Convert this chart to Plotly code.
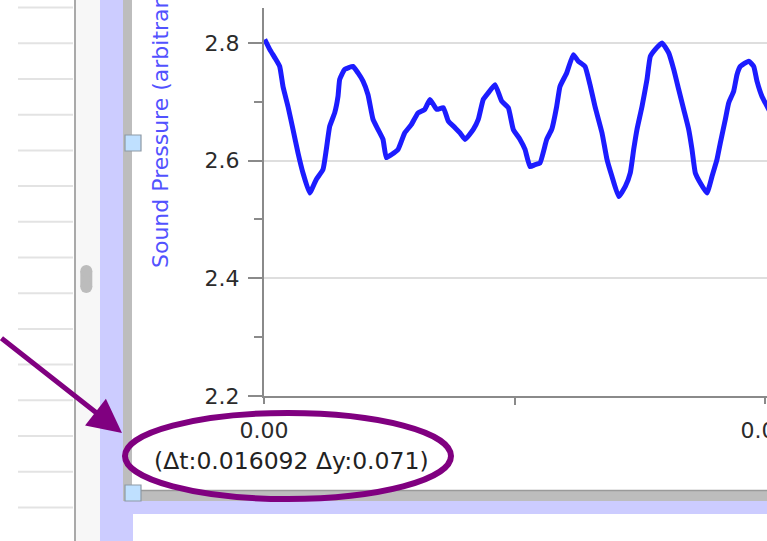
import plotly.graph_objects as go

# ---------------- data ----------------
time_s = [0.000014, 0.000114, 0.000214, 0.000313, 0.000379, 0.000479, 0.000579, 0.000679,
          0.000778, 0.000912, 0.001044, 0.001178, 0.001244, 0.001311, 0.001411, 0.001477,
          0.001511, 0.001611, 0.001776, 0.001876, 0.001976, 0.002076, 0.002176, 0.002275,
          0.002375, 0.002441, 0.002541, 0.002675, 0.002808, 0.002940, 0.003074, 0.003208,
          0.003313, 0.003447, 0.003579, 0.003679, 0.003812, 0.003912, 0.004012, 0.004178,
          0.004277, 0.004377, 0.004477, 0.004611, 0.004745, 0.004876, 0.004976, 0.005110,
          0.005210, 0.005309, 0.005409, 0.005509, 0.005643, 0.005743, 0.005842, 0.005908,
          0.006042, 0.006174, 0.006273, 0.006407, 0.006507, 0.006607, 0.006747, 0.006846,
          0.006946, 0.007080, 0.007212, 0.007311, 0.007379, 0.007445, 0.007545, 0.007645,
          0.007711, 0.007810, 0.007944, 0.008078, 0.008178, 0.008277, 0.008377, 0.008477,
          0.008543, 0.008609, 0.008709, 0.008842, 0.008942, 0.009042, 0.009108, 0.009208,
          0.009275, 0.009375, 0.009441, 0.009507, 0.009675, 0.009774, 0.009840, 0.009940,
          0.010100]
sound_pressure = [2.806, 2.789, 2.775, 2.760, 2.726, 2.692, 2.653, 2.613,
                  2.579, 2.545, 2.568, 2.585, 2.619, 2.658, 2.681, 2.709,
                  2.738, 2.755, 2.760, 2.749, 2.735, 2.712, 2.670, 2.653,
                  2.636, 2.605, 2.610, 2.619, 2.647, 2.661, 2.681, 2.687,
                  2.704, 2.687, 2.690, 2.667, 2.656, 2.647, 2.636, 2.653,
                  2.670, 2.704, 2.715, 2.729, 2.701, 2.690, 2.653, 2.636,
                  2.619, 2.590, 2.593, 2.596, 2.636, 2.653, 2.692, 2.726,
                  2.749, 2.780, 2.769, 2.760, 2.729, 2.692, 2.647, 2.602,
                  2.573, 2.539, 2.556, 2.579, 2.619, 2.653, 2.692, 2.738,
                  2.777, 2.789, 2.800, 2.783, 2.755, 2.721, 2.687, 2.653,
                  2.619, 2.579, 2.562, 2.545, 2.573, 2.602, 2.630, 2.670,
                  2.698, 2.718, 2.746, 2.760, 2.769, 2.760, 2.735, 2.709,
                  2.683]

y_tick_values = [2.2, 2.4, 2.6, 2.8]
y_tick_labels = ["2.2", "2.4", "2.6", "2.8"]
y_minor_values = [2.3, 2.5, 2.7]
x_tick_values = [0.0, 0.01]
x_tick_labels = ["0.00", "0.01"]
x_minor_values = [0.005]
y_title = "Sound Pressure (arbitrary)"
readout_text = "(Δt:0.016092 Δy:0.071)"

# ---------------- layout helpers ----------------
W, H = 767, 541
L, R, T, B = 264, 0, 8, 145
X_MAX = 0.01 * (W - L) / 501.0


def px(x):
    return (x - L) / (W - L - R)


def py(y):
    return (H - B - y) / (H - T - B)


def rect(x0, y0, x1, y1, fill, line_color=None, line_width=0, layer="below"):
    return dict(type="rect", xref="paper", yref="paper",
                x0=px(x0), x1=px(x1), y0=py(y1), y1=py(y0),
                fillcolor=fill, layer=layer,
                line=dict(color=line_color or fill, width=line_width))


def hline(x0, x1, y, color, width):
    return dict(type="line", xref="paper", yref="paper",
                x0=px(x0), x1=px(x1), y0=py(y), y1=py(y),
                line=dict(color=color, width=width), layer="below")


def vline(x, y0, y1, color, width):
    return dict(type="line", xref="paper", yref="paper",
                x0=px(x), x1=px(x), y0=py(y0), y1=py(y1),
                line=dict(color=color, width=width), layer="below")


shapes = []
# left list panel rows
row_y = 7.6
while row_y < H + 10:
    shapes.append(hline(18, 73, row_y, "#e3e3e3", 2))
    row_y += 35.7
shapes.append(vline(75, -5, H + 5, "#8c8c8c", 1.5))
shapes.append(rect(76, -5, 100, H + 5, "#f7f7f7"))
# scroll thumb (rounded ends)
shapes.append(dict(type="line", xref="paper", yref="paper",
                   x0=px(86.3), x1=px(86.3), y0=py(271), y1=py(287),
                   line=dict(color="#bcbcbc", width=12), layer="below"))
shapes.append(dict(type="circle", xref="paper", yref="paper",
                   x0=px(80.3), x1=px(92.3), y0=py(277), y1=py(265),
                   fillcolor="#bcbcbc", line=dict(width=0), layer="below"))
shapes.append(dict(type="circle", xref="paper", yref="paper",
                   x0=px(80.3), x1=px(92.3), y0=py(293), y1=py(281),
                   fillcolor="#bcbcbc", line=dict(width=0), layer="below"))
# lavender frame
shapes.append(rect(100, -5, 125, H + 5, "#ccccff"))
shapes.append(rect(100, 501, W + 5, H + 5, "#ccccff"))
shapes.append(rect(133, 514, W + 5, H + 5, "#ffffff"))
# gray frame
shapes.append(rect(123, -5, 132, 501, "#bdbdbd"))
shapes.append(rect(123, 490, W + 5, 501, "#bdbdbd"))
shapes.append(hline(132, W + 5, 490.5, "#9a9a9a", 1.5))
# handles
shapes.append(rect(125, 135, 141, 151, "#bfe0ff", "#8d99a6", 1.2, layer="above"))
shapes.append(rect(125, 485, 141, 501, "#bfe0ff", "#8d99a6", 1.2, layer="above"))
# purple ellipse
shapes.append(dict(type="circle", xref="paper", yref="paper",
                   x0=px(125), x1=px(451), y0=py(499), y1=py(413),
                   line=dict(color="#800080", width=6), layer="above"))

annotations = [
    dict(text=y_title, xref="paper", yref="paper", x=px(160), y=py(270),
         xanchor="center", yanchor="bottom", textangle=-90, showarrow=False,
         font=dict(family="DejaVu Sans", size=22, color="#5252ff")),
    dict(text=readout_text, xref="paper", yref="paper", x=px(291), y=py(461),
         xanchor="center", yanchor="middle", showarrow=False,
         font=dict(family="DejaVu Sans", size=23.5, color="#222222")),
    dict(text="", xref="paper", yref="paper", x=px(122), y=py(433),
         ax=-150, ay=-96, showarrow=True, arrowhead=2, arrowsize=1.35,
         arrowwidth=5, arrowcolor="#800080", standoff=0),
]

fig = go.Figure()
fig.add_trace(go.Scatter(x=time_s, y=sound_pressure, mode="lines",
                         line=dict(color="#1c1cff", width=5, shape="spline", smoothing=0.4),
                         hoverinfo="skip", showlegend=False))

axis_font = dict(family="DejaVu Sans", size=22, color="#2b2b2b")
fig.update_layout(
    width=W, height=H, autosize=False,
    margin=dict(l=L, r=R, t=T, b=B, pad=0, autoexpand=False),
    paper_bgcolor="#ffffff", plot_bgcolor="#ffffff",
    shapes=shapes, annotations=annotations,
    xaxis=dict(range=[0, X_MAX], tickmode="array", tickvals=x_tick_values,
               ticktext=x_tick_labels, showgrid=False, zeroline=False, automargin=False,
               showline=True, linecolor="#8a8a8a", linewidth=2,
               ticks="outside", ticklen=6, tickwidth=2, tickcolor="#8a8a8a",
               tickfont=axis_font, ticklabelstandoff=8, ticklabeloverflow="allow",
               minor=dict(tickmode="array", tickvals=x_minor_values, ticks="outside",
                          ticklen=7, tickwidth=2, tickcolor="#8a8a8a", showgrid=False)),
    yaxis=dict(range=[2.2, 2.2 + 0.2 * 388 / 117.7], tickmode="array",
               tickvals=y_tick_values, ticktext=y_tick_labels, automargin=False,
               showgrid=True, gridcolor="#dedede", gridwidth=2, zeroline=False,
               showline=True, linecolor="#8a8a8a", linewidth=2,
               ticks="outside", ticklen=14, tickwidth=2, tickcolor="#8a8a8a",
               tickfont=axis_font, ticklabelstandoff=4,
               minor=dict(tickmode="array", tickvals=y_minor_values, ticks="outside",
                          ticklen=8, tickwidth=2, tickcolor="#8a8a8a", showgrid=False)),
)

post_js = """
document.documentElement.style.overflow='hidden';
document.body.style.margin='0';
document.body.style.overflow='hidden';
"""

fig.write_html("out.html", config={"displayModeBar": False}, post_script=post_js)
